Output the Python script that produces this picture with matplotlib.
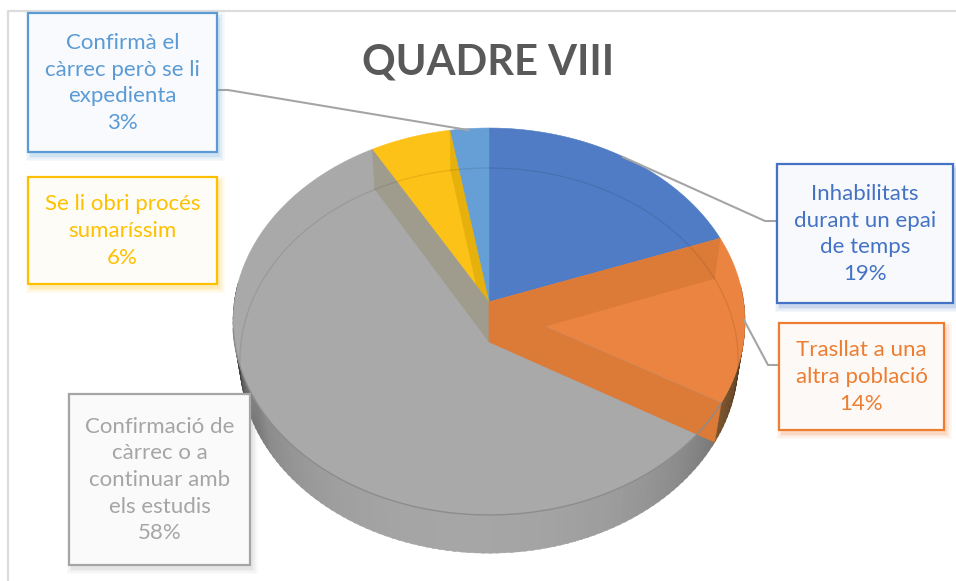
import numpy as np
import matplotlib
matplotlib.use("Agg")
import matplotlib.pyplot as plt
from matplotlib.patches import Polygon, Rectangle

plt.rcParams['font.family'] = ['Lato', 'DejaVu Sans']

# dades (clockwise from the top of the pie)
labels = ["Inhabilitats\ndurant un epai\nde temps", "Trasllat a una\naltra població",
          "Confirmació de\ncàrrec o a\ncontinuar amb\nels estudis", "Se li obri procés\nsumaríssim",
          "Confirmà el\ncàrrec però se li\nexpedienta"]
percent_labels = ["19%", "14%", "58%", "6%", "3%"]
values = [19.4, 13.9, 58.3, 5.6, 2.7]
colors = ["#4f7cc4", "#ea8440", "#a9a9a9", "#fdc217", "#659fd6"]
wall_colors = [None, "#dc7a38", "#dc7a38", "#9f9c8e", "#e6b10c"]
text_colors = ["#4472c4", "#ed7d31", "#a5a5a5", "#ffc000", "#5b9bd5"]
box_fills = ["#f7f9fc", "#fdf9f6", "#fafafa", "#fdfcf7", "#f8fafd"]
boxes = [(777, 164, 953, 303), (779, 323, 944, 430), (69, 394, 250, 565),
         (28, 177, 217, 284), (28, 13, 217, 152)]
leaders = [[(777, 221), (765, 221), (623, 157)], [(779, 365), (768, 365), (744, 320)],
           [(217, 90), (228, 90), (468, 130)]]

# 3D look: projective map of the unit disc
k_top, b_top, a_top, y_top = 0.1007, 191.5, 254.7, 302
k_bot, b_bot, a_bot, y_bot = 0.0965, 190.8, 248.0, 342
cx = 489


def project(theta, r=1.0, top=True):
    k, b, a, y0 = (k_top, b_top, a_top, y_top) if top else (k_bot, b_bot, a_bot, y_bot)
    u = r * np.sin(np.radians(theta))
    v = r * np.cos(np.radians(theta))
    w = 1 + k * v
    return np.column_stack([cx + a * u / w, y0 - b * v / w])


fig = plt.figure(figsize=(9.56, 5.81), dpi=100)
ax = fig.add_axes([0, 0, 1, 1])
ax.set_xlim(0, 956)
ax.set_ylim(581, 0)
ax.axis('off')

# marc
ax.plot([956, 8, 8], [11, 11, 580], color="#dcdcdc", lw=1.6, zorder=1)

edges = np.concatenate([[0], np.cumsum(values)]) / sum(values) * 360

# outer wall, only seen where the lower rim goes past the upper one
orange_end = edges[2]
for t in np.arange(85, 275, 1.5):
    t2 = t + 2
    q = np.vstack([project(np.array([t, t2])), project(np.array([t2, t]), top=False)])
    if t < orange_end:
        f = (orange_end - t) / 35
        c = (0.50 - 0.30 * f, 0.34 - 0.20 * f, 0.18 - 0.08 * f)
    else:
        d = abs(t - 185) / 85
        g = 0.65 - 0.33 * min(d, 1) ** 2.2
        if t > 235:
            g -= 0.25 * (t - 235) / 40
        g = max(g, 0.05)
        c = (g, g, g)
    ax.add_patch(Polygon(q, closed=True, fc=c, ec=c, lw=0.3, zorder=2))

# top faces
for i in range(len(values)):
    th = np.linspace(edges[i], edges[i + 1], 80)
    pts = np.vstack([[cx, y_top], project(th)])
    ax.add_patch(Polygon(pts, closed=True, fc=colors[i], ec=colors[i], lw=0.4, zorder=3))

# inner walls
wall_angles = [None, edges[1], edges[2], edges[3], edges[4]]
order = [4, 3, 1, 2]
for i in order:
    t = wall_angles[i]
    p_top = project(np.array([t]))[0]
    p_bot = project(np.array([t]), top=False)[0]
    pts = [(cx, y_top), p_top, p_bot, (cx, y_bot)]
    ax.add_patch(Polygon(pts, closed=True, fc=wall_colors[i], ec=wall_colors[i], lw=0.3, zorder=4))

# thin rim lines
for i in range(len(values)):
    th = np.linspace(edges[i], edges[i + 1], 60)
    th = th[(th < 118) | (th > 262)]
    if len(th) > 1:
        p = project(th, top=False)
        ax.plot(p[:, 0], p[:, 1], color="#000000", alpha=0.09, lw=0.9, zorder=5)
th = np.linspace(edges[2], 262, 120)
p = project(th)
ax.plot(p[:, 0], p[:, 1], color="#8c8c8c", lw=1.0, zorder=5)

# leader lines
for line in leaders:
    ax.plot([q[0] for q in line], [q[1] for q in line], color="#a5a5a5", lw=1.5, zorder=6)

# label boxes
for i in range(len(values)):
    x0, y0, x1, y1 = boxes[i]
    for grow, al in [(5, 0.05), (3.5, 0.06), (2, 0.08), (0.5, 0.12)]:
        ax.add_patch(Rectangle((x0 + 3 - grow, y0 + 4 - grow), x1 - x0 + 2 * grow, y1 - y0 + 2 * grow,
                               fc=text_colors[i], ec='none', alpha=al, zorder=7))
    ax.add_patch(Rectangle((x0, y0), x1 - x0, y1 - y0, fc=box_fills[i], ec=text_colors[i], lw=1.6, zorder=8))
    ax.text((x0 + x1) / 2, (y0 + y1) / 2 + 0.5, labels[i] + "\n" + percent_labels[i], color=text_colors[i],
            fontsize=16, ha='center', va='center', linespacing=1.42, zorder=9)

ax.text(488, 62, "QUADRE VIII", color="#595959", fontsize=30, fontweight='bold',
        ha='center', va='center', zorder=9)

fig.savefig("out.png", dpi=100)
